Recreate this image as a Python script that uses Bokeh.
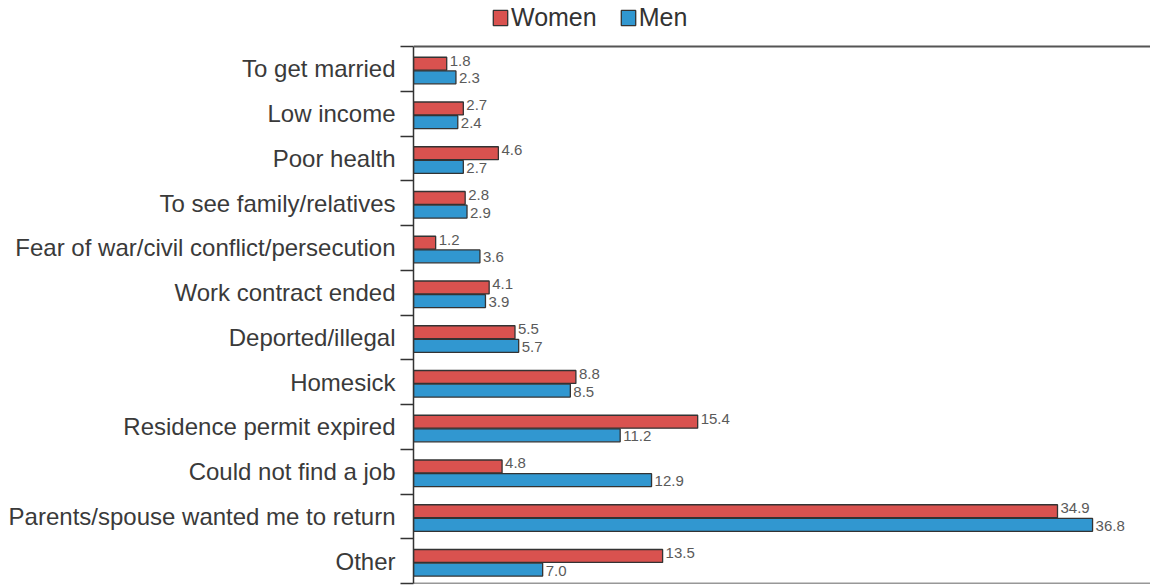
from bokeh.plotting import figure
from bokeh.models import ColumnDataSource, Range1d, FixedTicker, Legend, LegendItem, Span
from bokeh.core.properties import value
from bokeh.embed import file_html
from bokeh.resources import INLINE

categories = ["To get married", "Low income", "Poor health", "To see family/relatives",
              "Fear of war/civil conflict/persecution", "Work contract ended",
              "Deported/illegal", "Homesick", "Residence permit expired",
              "Could not find a job", "Parents/spouse wanted me to return", "Other"]
women = [1.8, 2.7, 4.6, 2.8, 1.2, 4.1, 5.5, 8.8, 15.4, 4.8, 34.9, 13.5]
men = [2.3, 2.4, 2.7, 2.9, 3.6, 3.9, 5.7, 8.5, 11.2, 12.9, 36.8, 7.0]

RED = "#D9524F"
BLUE = "#3197D0"
FONT = "Liberation Sans"

n = len(categories)
centers = [i + 0.5 for i in range(n)]
bar_h = 0.29
w_src = ColumnDataSource(dict(y=[c - 0.115 for c in centers], v=women,
                              t=[f"{x:.1f}" for x in women]))
m_src = ColumnDataSource(dict(y=[c + 0.19 for c in centers], v=men,
                              t=[f"{x:.1f}" for x in men]))

p = figure(width=1150, height=585, output_backend="svg", toolbar_location=None,
           x_range=Range1d(0, 39.94), y_range=Range1d(n, -46 / 44.75),
           min_border_left=413, min_border_right=0, min_border_top=0,
           min_border_bottom=2)
p.outline_line_color = None

rw = p.hbar(y="y", right="v", left=0, height=bar_h, source=w_src,
            fill_color=RED, line_color="#333333", line_width=1.3)
rm = p.hbar(y="y", right="v", left=0, height=bar_h, source=m_src,
            fill_color=BLUE, line_color="#333333", line_width=1.3)

p.text(x="v", y="y", text="t", source=w_src, x_offset=3, y_offset=-3,
       text_font=value(FONT), text_font_size="15px", text_color="#5a5a5a",
       text_baseline="middle", text_align="left")
p.text(x="v", y="y", text="t", source=m_src, x_offset=3, y_offset=1,
       text_font=value(FONT), text_font_size="15px", text_color="#5a5a5a",
       text_baseline="middle", text_align="left")

p.xaxis.visible = False
p.xgrid.visible = False
p.ygrid.visible = False

ax = p.yaxis[0]
ax.bounds = (0, n)
ax.ticker = FixedTicker(ticks=centers, minor_ticks=list(range(n + 1)))
ax.major_label_overrides = {c: cat for c, cat in zip(centers, categories)}
ax.major_tick_out = 0
ax.major_tick_in = 0
ax.minor_tick_out = 13
ax.minor_tick_in = 0
ax.minor_tick_line_color = "#333333"
ax.minor_tick_line_width = 1.3
ax.axis_line_color = "#333333"
ax.axis_line_width = 1.5
ax.major_label_standoff = 5
ax.major_label_text_font = FONT
ax.major_label_text_font_size = "24px"
ax.major_label_text_color = "#3a3a3a"

p.add_layout(Span(location=0, dimension="width", line_color="#555555", line_width=2))
p.add_layout(Span(location=n, dimension="width", line_color="#333333", line_width=1.5))

legend = Legend(items=[LegendItem(label="Women", renderers=[rw]),
                       LegendItem(label="Men", renderers=[rm])],
                orientation="horizontal", location=(78, 551))
legend.glyph_width = 18
legend.glyph_height = 19
legend.label_text_font = FONT
legend.label_text_font_size = "25px"
legend.label_text_color = "#333333"
legend.label_standoff = 2
legend.spacing = 22
legend.padding = 0
legend.margin = 0
legend.border_line_alpha = 0
legend.background_fill_alpha = 0
p.add_layout(legend)

open("out.html", "w").write(file_html(p, INLINE))
